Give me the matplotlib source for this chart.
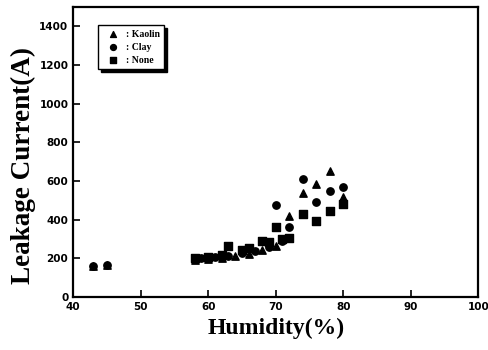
import matplotlib
matplotlib.use('Agg')
import matplotlib.pyplot as plt

# humidity (%) and leakage current readings for each filler
kaolin_h = [43, 45, 58, 60, 62, 64, 66, 68, 70, 72, 74, 76, 78, 80]
kaolin_i = [160, 165, 190, 195, 200, 215, 225, 245, 265, 418, 537, 583, 650, 517]

clay_h = [43, 45, 59, 61, 63, 65, 67, 69, 70, 71, 72, 74, 76, 78, 80]
clay_i = [160, 165, 200, 205, 215, 230, 240, 260, 475, 290, 362, 610, 490, 548, 570]

none_h = [58, 60, 62, 63, 65, 66, 68, 69, 70, 71, 72, 74, 76, 78, 80]
none_i = [200, 210, 220, 265, 245, 255, 290, 285, 362, 300, 305, 429, 393, 444, 480]

fig = plt.figure(figsize=(4.88, 3.5), dpi=100)
ax = fig.add_axes([0.150, 0.151, 0.830, 0.829])

ax.scatter(kaolin_h, kaolin_i, marker='^', s=28, color='black', label=': Kaolin', zorder=3)
ax.scatter(clay_h, clay_i, marker='o', s=28, color='black', label=': Clay', zorder=3)
ax.scatter(none_h, none_i, marker='s', s=28, color='black', label=': None', zorder=3)

ax.set_xlim(40, 100)
ax.set_ylim(0, 1500)
ax.set_xticks([40, 50, 60, 70, 80, 90, 100])
ax.set_yticks([0, 200, 400, 600, 800, 1000, 1200, 1400])
ax.tick_params(direction='in', length=5, width=1.2, labelsize=7.5)
for lbl in ax.get_xticklabels() + ax.get_yticklabels():
    lbl.set_fontweight('bold')
for sp in ax.spines.values():
    sp.set_linewidth(1.6)

ax.set_xlabel('Humidity(%)', fontsize=17, fontweight='bold', family='Liberation Serif')
ax.set_ylabel('Leakage Current(A)', fontsize=19.5, fontweight='bold', family='Liberation Serif',
              labelpad=2)
ax.yaxis.label.set_y(0.455)

leg = ax.legend(loc='upper left', bbox_to_anchor=(0.05, 0.955), fancybox=False,
                shadow={'color': 'black', 'alpha': 1, 'ox': 2, 'oy': -2},
                edgecolor='black', handletextpad=0.3, borderpad=0.5, labelspacing=0.4,
                prop={'family': 'Liberation Serif', 'weight': 'bold', 'size': 7},
                markerscale=0.8, framealpha=1)
leg.get_frame().set_linewidth(1.0)

fig.savefig('out.png', dpi=100)
